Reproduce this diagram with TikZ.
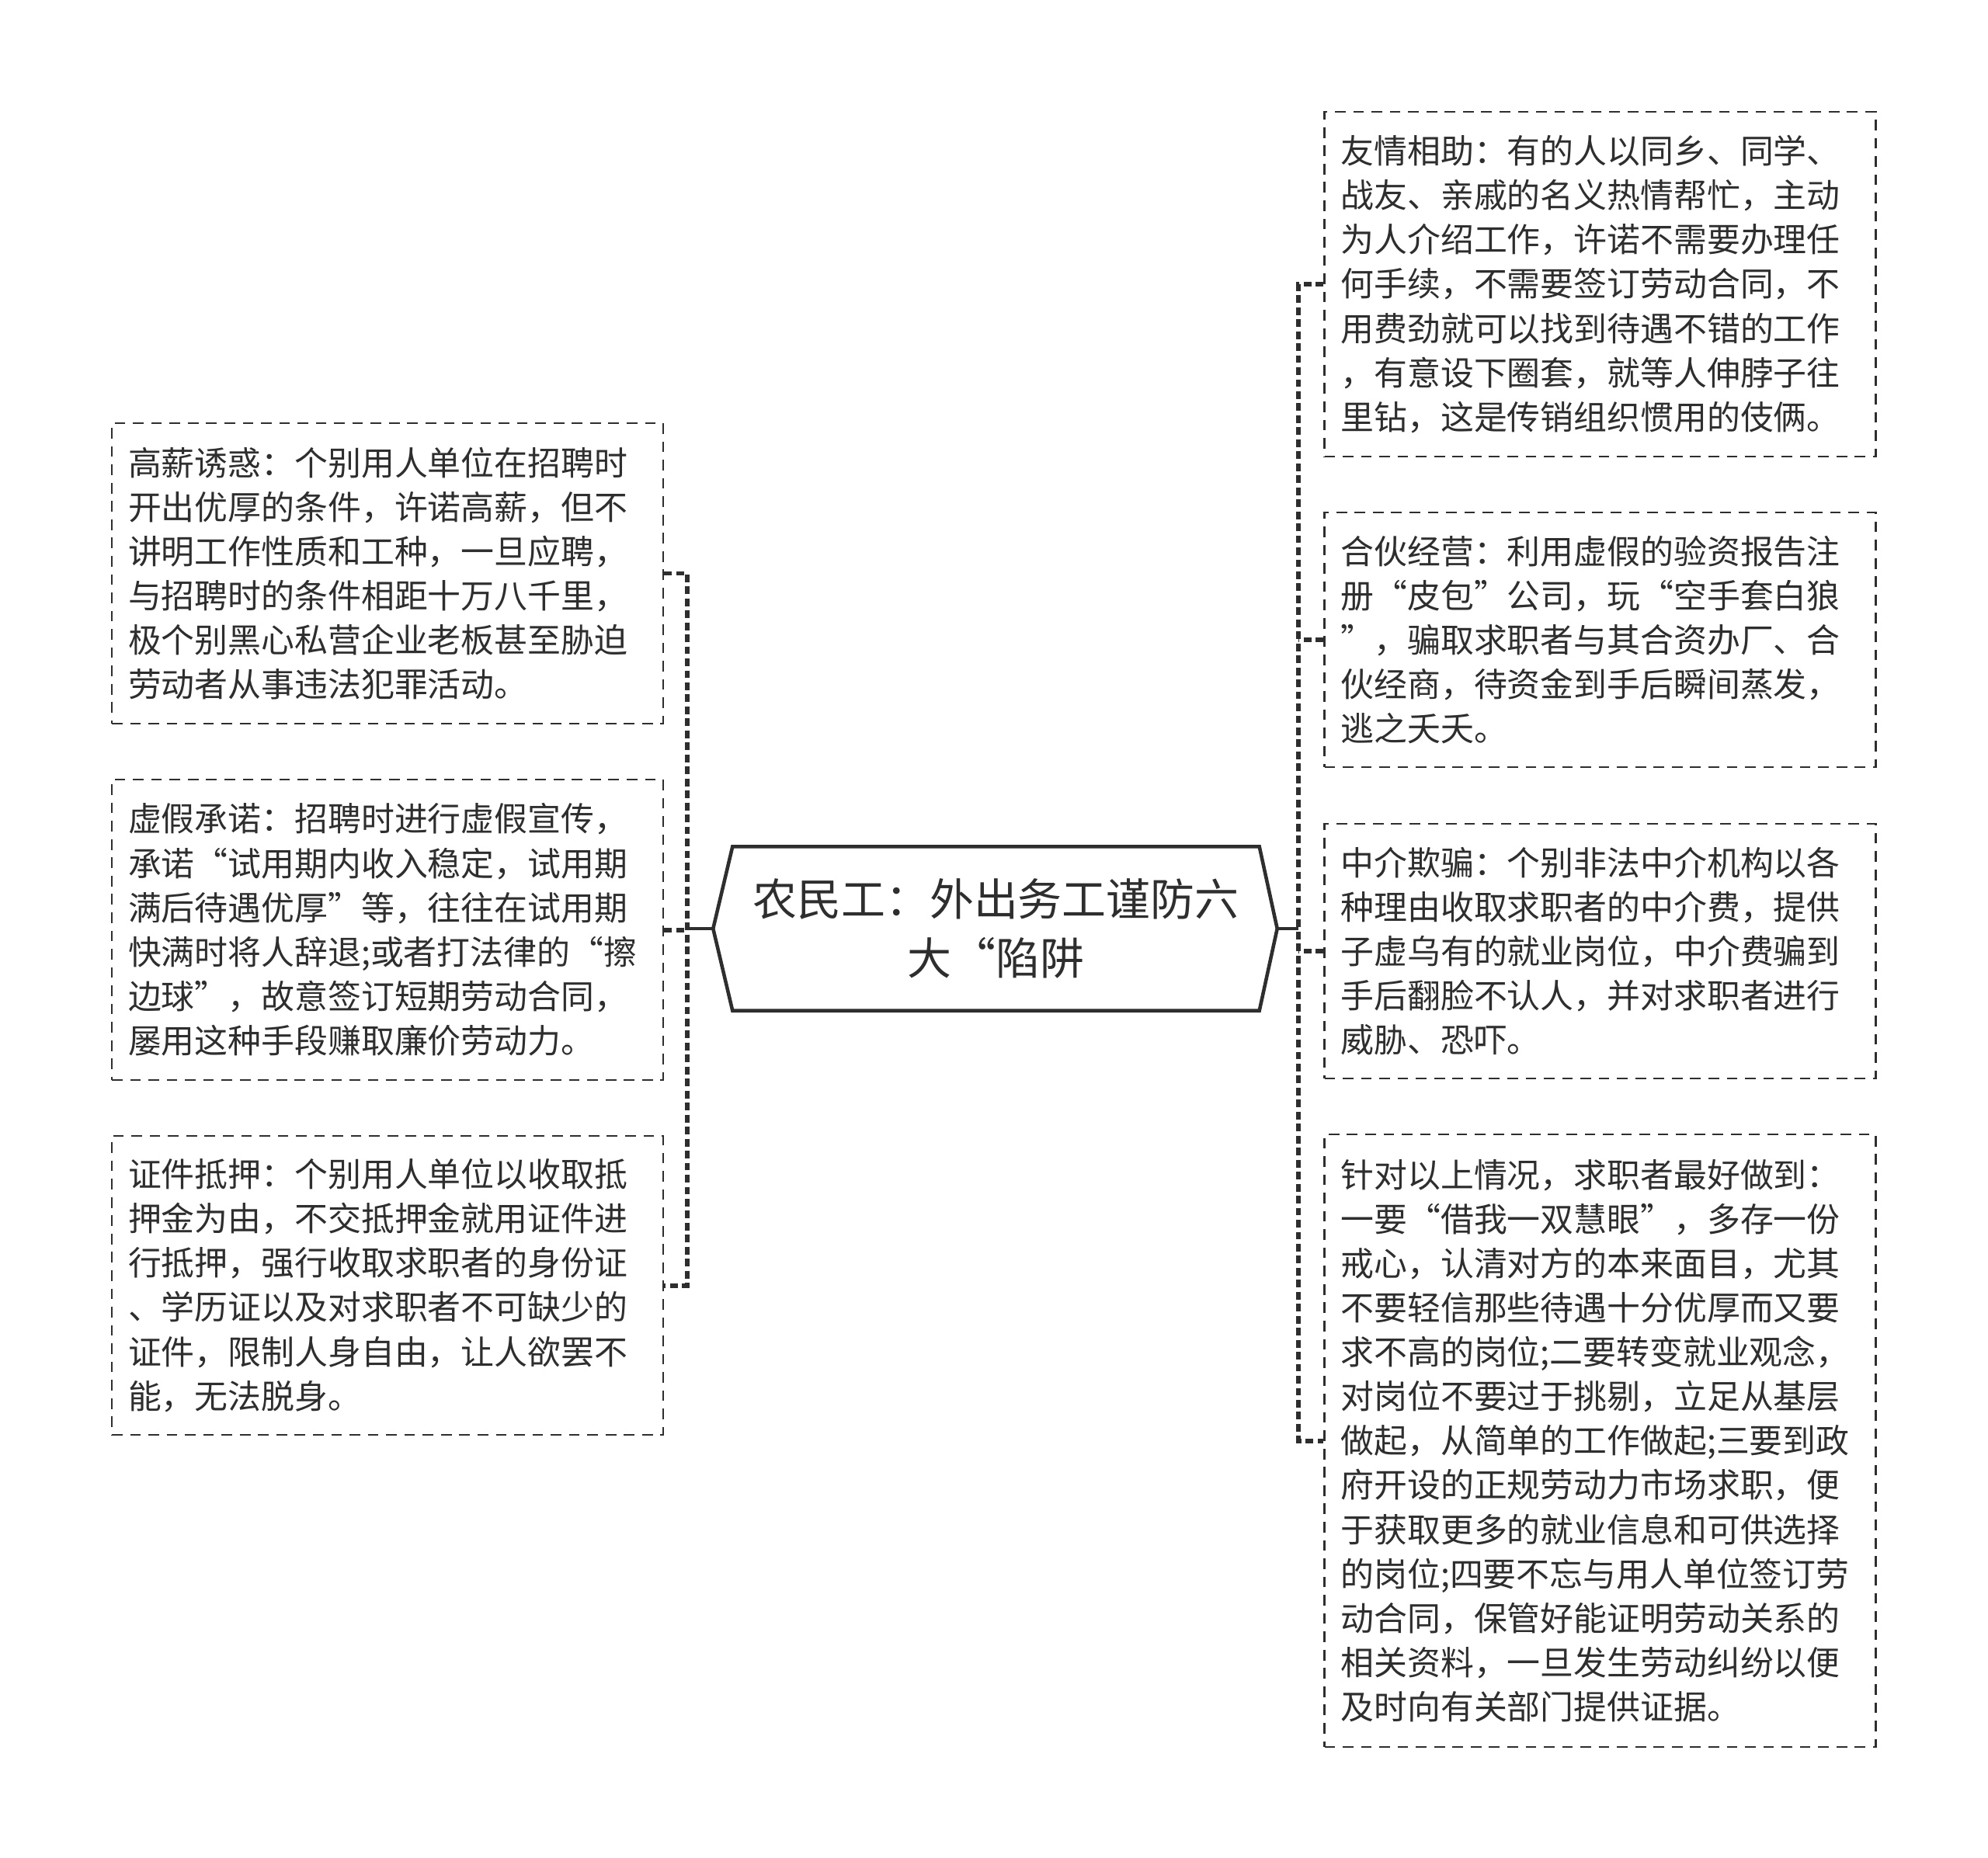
\documentclass[tikz,border=0pt]{standalone}
\usepackage{fontspec}
\setmainfont{Noto Sans CJK SC}
\usepackage{xcolor}
\definecolor{ink}{HTML}{2E2E2E}
\usetikzlibrary{positioning}

\begin{document}
\begin{tikzpicture}[
	leaf/.style={draw=ink, line width=0.8pt, dash pattern=on 3.9pt off 2.8pt, text=ink,
		minimum width=7.1cm, text width=6.68cm, inner xsep=0.21cm, inner ysep=0pt, align=left,
		font=\fontsize{12.2pt}{16.25pt}\selectfont},
	trunk/.style={draw=ink, line width=1.7pt, dash pattern=on 2.8pt off 1.6pt},
	stem/.style={draw=ink, line width=1.3pt}
	]
	\fill[white] (0,0) rectangle (25.6,-23.93);
	\useasboundingbox (0,0) rectangle (25.6,-23.93);

	\node[text=ink, minimum width=6.77cm, minimum height=2.1cm, text width=6.5cm, align=center, inner sep=0pt,
		font=\fontsize{16.2pt}{21.8pt}\selectfont] (hub) at (12.825,-11.96) {农民工：外出务工谨防六\\大“陷阱};
	\coordinate (hubL) at ([xshift=-2.5mm]hub.west);
	\coordinate (hubR) at ([xshift=2.3mm]hub.east);
	\draw[stem, line join=miter] (hub.north west) -- (hub.north east) -- (hubR) -- (hub.south east) -- (hub.south west) -- (hubL) -- cycle;

	\node[leaf, minimum height=3.87cm] (l1) at (4.99,-7.385) {高薪诱惑：个别用人单位在招聘时\\开出优厚的条件，许诺高薪，但不\\讲明工作性质和工种，一旦应聘，\\与招聘时的条件相距十万八千里，\\极个别黑心私营企业老板甚至胁迫\\劳动者从事违法犯罪活动。};
	\node[leaf, minimum height=3.87cm] (l2) at (4.99,-11.975) {虚假承诺：招聘时进行虚假宣传，\\承诺“试用期内收入稳定，试用期\\满后待遇优厚”等，往往在试用期\\快满时将人辞退;或者打法律的“擦\\边球”，故意签订短期劳动合同，\\屡用这种手段赚取廉价劳动力。};
	\node[leaf, minimum height=3.85cm] (l3) at (4.99,-16.555) {证件抵押：个别用人单位以收取抵\\押金为由，不交抵押金就用证件进\\行抵押，强行收取求职者的身份证\\、学历证以及对求职者不可缺少的\\证件，限制人身自由，让人欲罢不\\能，无法脱身。};

	\node[leaf, minimum height=4.44cm] (r1) at (20.605,-3.66) {友情相助：有的人以同乡、同学、\\战友、亲戚的名义热情帮忙，主动\\为人介绍工作，许诺不需要办理任\\何手续，不需要签订劳动合同，不\\用费劲就可以找到待遇不错的工作\\，有意设下圈套，就等人伸脖子往\\里钻，这是传销组织惯用的伎俩。};
	\node[leaf, minimum height=3.28cm] (r2) at (20.605,-8.24) {合伙经营：利用虚假的验资报告注\\册“皮包”公司，玩“空手套白狼\\”，骗取求职者与其合资办厂、合\\伙经商，待资金到手后瞬间蒸发，\\逃之夭夭。};
	\node[leaf, minimum height=3.28cm] (r3) at (20.605,-12.25) {中介欺骗：个别非法中介机构以各\\种理由收取求职者的中介费，提供\\子虚乌有的就业岗位，中介费骗到\\手后翻脸不认人，并对求职者进行\\威胁、恐吓。};
	\node[leaf, minimum height=7.89cm] (r4) at (20.605,-18.555) {针对以上情况，求职者最好做到：\\一要“借我一双慧眼”，多存一份\\戒心，认清对方的本来面目，尤其\\不要轻信那些待遇十分优厚而又要\\求不高的岗位;二要转变就业观念，\\对岗位不要过于挑剔，立足从基层\\做起，从简单的工作做起;三要到政\\府开设的正规劳动力市场求职，便\\于获取更多的就业信息和可供选择\\的岗位;四要不忘与用人单位签订劳\\动合同，保管好能证明劳动关系的\\相关资料，一旦发生劳动纠纷以便\\及时向有关部门提供证据。};

	\coordinate (lspine) at (8.85,0);
	\coordinate (rspine) at (16.72,0);

	\draw[trunk] (l1.east) -- (l1.east -| lspine) -- (l3.east -| lspine) -- (l3.east);
	\draw[trunk] (l2.east) -- (l2.east -| lspine);
	\draw[stem] (hubL) -- (hubL -| lspine);

	\draw[trunk] (r1.west) -- (r1.west -| rspine) -- (r4.west -| rspine) -- (r4.west);
	\draw[trunk] (r2.west) -- (r2.west -| rspine);
	\draw[trunk] (r3.west) -- (r3.west -| rspine);
	\draw[stem] (hubR) -- (hubR -| rspine);
\end{tikzpicture}
\end{document}
